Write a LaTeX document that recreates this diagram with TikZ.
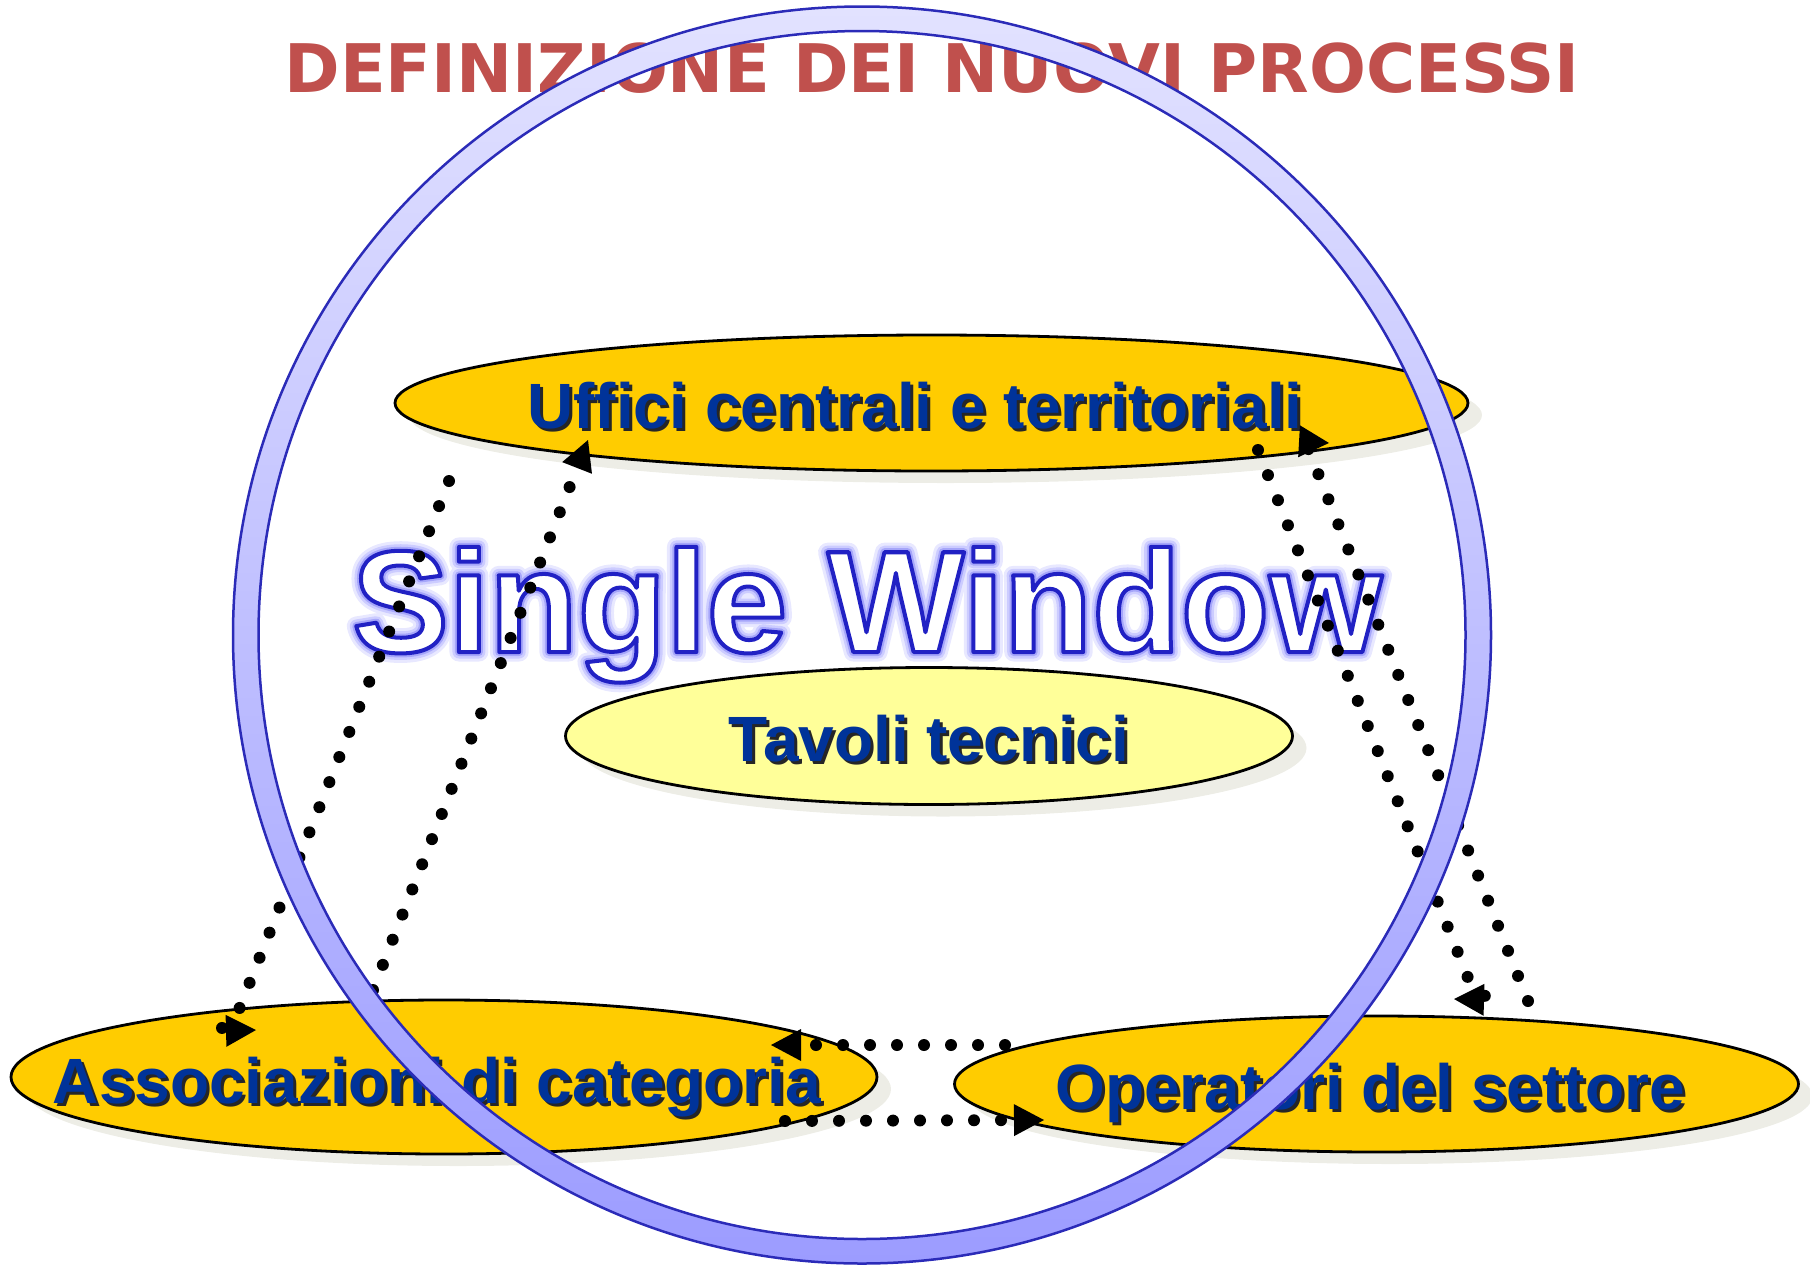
\documentclass[tikz,border=0pt]{standalone}
\usepackage{fontspec}
\usetikzlibrary{shapes.geometric,arrows.meta,shadows}

\newfontfamily\labelfont{Liberation Sans}
\newfontfamily\titlefont{DejaVu Sans}

\definecolor{titlered}{HTML}{C0504D}
\definecolor{uffill}{HTML}{FFCC00}
\definecolor{tavfill}{HTML}{FFFF99}
\definecolor{labelblue}{HTML}{003399}
\definecolor{shadowgray}{HTML}{EDEDE6}
\definecolor{ringtop}{HTML}{E2E2FF}
\definecolor{ringmid}{HTML}{C4C4FF}
\definecolor{ringbot}{HTML}{9C9CFF}
\definecolor{ringline}{HTML}{2B2BB8}

% text with a small black drop shadow
\newcommand\shadowtext[1]{\makebox[0pt][l]{\hspace*{3pt}\raisebox{-3pt}{\color{black!85}#1}}#1}
% stroked text: #1 width, #2 rgb, #3 text
\newcommand\glowtext[3]{\special{pdf:literal direct 1 Tr 1 j #1 w #2 RG}#3\special{pdf:literal direct 0 Tr 0 j 0 G}}
\newcommand\outlinetext[1]{\special{pdf:literal direct 2 Tr 1 j 4 w 0.13 0.13 0.77 RG}#1\special{pdf:literal direct 0 Tr 0 j 0 G}}

\tikzset{
  actor/.style={ellipse, draw=black, line width=2.8pt, inner sep=0pt,
    drop shadow={shadow xshift=14pt, shadow yshift=-12pt, fill=shadowgray, opacity=1}},
  lbl/.style={anchor=base, inner sep=0pt, text=labelblue,
    font=\labelfont\bfseries\fontsize{64}{70}\selectfont},
  swtext/.style={anchor=base, inner sep=0pt, text=white,
    font=\labelfont\bfseries\fontsize{145}{150}\selectfont},
  dotline/.style={line width=12pt, dash pattern=on 0pt off 27pt, line cap=round},
  arrowed/.style={-{Triangle[length=30pt, width=32pt, line width=0pt]}},
}

\begin{document}
\begin{tikzpicture}[x=1pt, y=-1pt]
  \useasboundingbox (0,0) rectangle (1810,1267);

  % title
  \node[anchor=base, inner sep=0pt, text=titlered,
    font=\titlefont\bfseries\fontsize{67}{75}\selectfont]
    (title) at (932,92) {DEFINIZIONE DEI NUOVI PROCESSI};

  % the four groups
  \node[actor, fill=uffill, minimum width=1073pt, minimum height=136pt] (uffici) at (931.5,403) {};
  \node[actor, fill=tavfill, minimum width=727pt, minimum height=137pt] (tavoli) at (929,736) {};
  \node[actor, fill=uffill, minimum width=866pt, minimum height=154pt] (assoc) at (444,1077) {};
  \node[actor, fill=uffill, minimum width=844pt, minimum height=136pt] (oper) at (1376.5,1084) {};

  \node[lbl] (ufficiTxt) at (915,428) {\shadowtext{Uffici centrali e territoriali}};
  \node[lbl] (tavoliTxt) at (929,761) {\shadowtext{Tavoli tecnici}};
  \node[lbl] (assocTxt) at (437,1103) {\shadowtext{Associazioni di categoria}};
  \node[lbl] (operTxt) at (1370,1109) {\shadowtext{Operatori del settore}};

  % Single Window: soft glow, then outline
  \node[swtext] (swGlowA) at (867,652) {\glowtext{19}{0.91 0.91 1}{Single Window}};
  \node[swtext] (swGlowB) at (867,652) {\glowtext{13}{0.8 0.8 1}{Single Window}};
  \node[swtext] (swGlowC) at (867,652) {\glowtext{8}{0.65 0.65 0.98}{Single Window}};
  \node[swtext] (sw) at (867,652) {\outlinetext{Single Window}};

  % dotted connectors
  \coordinate (a1s) at (449,481);
  \coordinate (a1b) at (238,1012);
  \coordinate (a1c) at (218,1031);
  \coordinate (a1t) at (256,1030);
  \coordinate (a2s) at (373,990);
  \coordinate (a2t) at (588,440);
  \coordinate (b1s) at (1258,450);
  \coordinate (b1b) at (1472,988);
  \coordinate (b1c) at (1492,1000);
  \coordinate (b1t) at (1454,999);
  \coordinate (b2s) at (1528,1001);
  \coordinate (b2b) at (1308,448);
  \coordinate (b2c) at (1294,441);
  \coordinate (b2t) at (1329,443);
  \coordinate (c1s) at (1005,1045);
  \coordinate (c1t) at (771,1045);
  \coordinate (c2s) at (785,1121);
  \coordinate (c2t) at (1044,1120);

  \draw[dotline, arrowed] (a1s) -- (a1b) .. controls (a1c) .. (a1t);
  \draw[dotline, arrowed] (a2s) -- (a2t);
  \draw[dotline, arrowed] (b1s) -- (b1b) .. controls (b1c) .. (b1t);
  \draw[dotline, arrowed] (b2s) -- (b2b) .. controls (b2c) .. (b2t);
  \draw[dotline, arrowed] (c1s) -- (c1t);
  \draw[dotline, arrowed] (c2s) -- (c2t);

  % the ring
  \coordinate (ringc) at (862,635);
  \draw[even odd rule, top color=ringtop, middle color=ringmid, bottom color=ringbot,
    draw=ringline, line width=2.5pt]
    (ringc) ellipse [x radius=629, y radius=628.5]
    (ringc) ellipse [x radius=603.5, y radius=604];
\end{tikzpicture}
\end{document}
